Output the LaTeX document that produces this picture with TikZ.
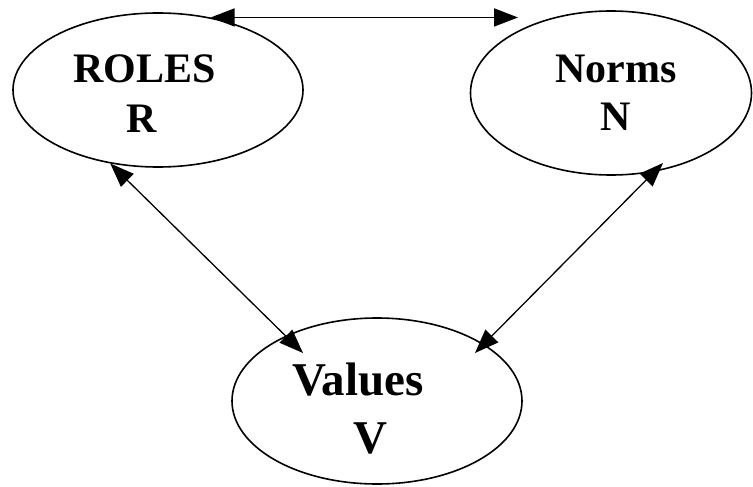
\documentclass[tikz,border=0pt]{standalone}
\usepackage{fontspec}
\setmainfont{Liberation Serif}
\usetikzlibrary{shapes.geometric,arrows.meta}
\begin{document}
\begin{tikzpicture}[x=1pt,y=-1pt,
  oval/.style={ellipse,draw,line width=1.6pt,inner sep=0pt},
  lbl/.style={anchor=base,inner sep=0pt,font=\fontsize{42}{42}\selectfont\bfseries},
  lblbig/.style={anchor=base,inner sep=0pt,font=\fontsize{47}{47}\selectfont\bfseries},
  link/.style={line width=1.3pt,{Triangle[length=24pt,width=18pt]}-{Triangle[length=24pt,width=18pt]}}]
\useasboundingbox (0,0) rectangle (753,487);
\node[oval,minimum width=290pt,minimum height=154pt] (R) at (158,90) {};
\node[oval,minimum width=281pt,minimum height=164pt] (N) at (611,93) {};
\node[oval,minimum width=290pt,minimum height=166pt] (V) at (377,401) {};
\node[lbl] (rt) at (144.5,83) {ROLES};
\node[lbl] (rl) at (142,132) {R};
\node[lbl] (nt) at (616,82) {Norms};
\node[lbl] (nl) at (616,131) {N};
\node[lblbig] (vt) at (358,395) {Values};
\node[lblbig] (vl) at (370,453) {V};
\coordinate (ntip) at (518,18);
\coordinate (nbot) at (663,163);
\coordinate (vleft) at (303,353);
\coordinate (vright) at (475,353);
\draw[link,line width=1.8pt] (R.54.5) -- (R.54.5 -| ntip);
\draw[link] (R.237.8) -- (vleft);
\draw[link] (nbot) -- (vright);
\end{tikzpicture}
\end{document}
